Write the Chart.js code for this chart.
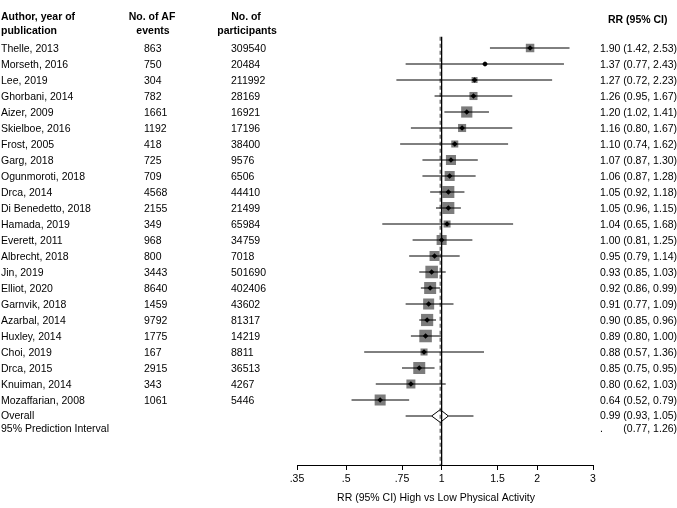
<!DOCTYPE html>
<html>
<head>
<meta charset="utf-8">
<script src="https://cdn.jsdelivr.net/npm/chart.js@4.4.1/dist/chart.umd.min.js"></script>
<style>
    html, body { margin: 0; padding: 0; background: #fff; }
</style>
</head>
<body>
<canvas id="forestChart" width="677" height="508"></canvas>
<script>
// Datos del forest plot
const studies = [
    "Thelle, 2013", "Morseth, 2016", "Lee, 2019", "Ghorbani, 2014", "Aizer, 2009",
    "Skielboe, 2016", "Frost, 2005", "Garg, 2018", "Ogunmoroti, 2018", "Drca, 2014",
    "Di Benedetto, 2018", "Hamada, 2019", "Everett, 2011", "Albrecht, 2018", "Jin, 2019",
    "Elliot, 2020", "Garnvik, 2018", "Azarbal, 2014", "Huxley, 2014", "Choi, 2019",
    "Drca, 2015", "Knuiman, 2014", "Mozaffarian, 2008"
];
const afEvents = [863, 750, 304, 782, 1661, 1192, 418, 725, 709, 4568, 2155, 349, 968, 800, 3443, 8640, 1459, 9792, 1775, 167, 2915, 343, 1061];
const participants = [309540, 20484, 211992, 28169, 16921, 17196, 38400, 9576, 6506, 44410, 21499, 65984, 34759, 7018, 501690, 402406, 43602, 81317, 14219, 8811, 36513, 4267, 5446];
const rr    = [1.90, 1.37, 1.27, 1.26, 1.20, 1.16, 1.10, 1.07, 1.06, 1.05, 1.05, 1.04, 1.00, 0.95, 0.93, 0.92, 0.91, 0.90, 0.89, 0.88, 0.85, 0.80, 0.64];
const lower = [1.42, 0.77, 0.72, 0.95, 1.02, 0.80, 0.74, 0.87, 0.87, 0.92, 0.96, 0.65, 0.81, 0.79, 0.85, 0.86, 0.77, 0.85, 0.80, 0.57, 0.75, 0.62, 0.52];
const upper = [2.53, 2.43, 2.23, 1.67, 1.41, 1.67, 1.62, 1.30, 1.28, 1.18, 1.15, 1.68, 1.25, 1.14, 1.03, 0.99, 1.09, 0.96, 1.00, 1.36, 0.95, 1.03, 0.79];
// Peso de cada estudio (%), estimado del tamaño de los cuadrados
const weights = [3.2, 0.7, 1.6, 2.9, 5.6, 2.9, 2.2, 4.5, 4.5, 6.4, 6.4, 2.2, 4.5, 4.5, 7.0, 6.4, 5.4, 6.6, 7.0, 2.2, 6.4, 3.6, 5.4];
const overall = [0.99, 0.93, 1.05];
const predInterval = [0.77, 1.26];
const tickValues = [0.35, 0.5, 0.75, 1, 1.5, 2, 3];
const tickLabels = [".35", ".5", ".75", "1", "1.5", "2", "3"];

const FONT = "'Liberation Sans', Arial, sans-serif";
const ROW_OVERALL = studies.length;
const Y_MAX = 26.0625;
const GREY = "#7c7c7c";

function fmt(v, lo, hi) {
    return `${v.toFixed(2)} (${lo.toFixed(2)}, ${hi.toFixed(2)})`;
}

// Lado del cuadrado proporcional a la raíz del peso
function squareRadius(w) {
    return Math.sqrt(w) * 4.74 / Math.SQRT2;
}

function lineSet(points, extra) {
    return Object.assign({
        data: points,
        showLine: true,
        borderColor: "#000",
        borderWidth: 1,
        pointRadius: 0,
        tension: 0
    }, extra || {});
}

// Textos de las columnas
const textPlugin = {
    id: "forestText",
    afterDraw(chart) {
        const ctx = chart.ctx;
        const yScale = chart.scales.y;
        ctx.save();
        ctx.fillStyle = "#000";
        ctx.textBaseline = "middle";

        ctx.font = `bold 10.5px ${FONT}`;
        ctx.textAlign = "left";
        ctx.fillText("Author, year of", 1, 17);
        ctx.fillText("publication", 1, 31);
        ctx.fillText("RR (95% CI)", 608, 20);
        ctx.textAlign = "center";
        ctx.fillText("No. of AF", 152, 17);
        ctx.fillText("events", 153, 31);
        ctx.fillText("No. of", 246, 17);
        ctx.fillText("participants", 247, 31);

        ctx.font = `10.5px ${FONT}`;
        ctx.textAlign = "left";
        studies.forEach((name, i) => {
            const py = yScale.getPixelForValue(i) + 1;
            ctx.fillText(name, 1, py);
            ctx.fillText(String(afEvents[i]), 144, py);
            ctx.fillText(String(participants[i]), 231, py);
            ctx.fillText(fmt(rr[i], lower[i], upper[i]), 600, py);
        });

        const yo = yScale.getPixelForValue(ROW_OVERALL);
        ctx.fillText("Overall", 1, yo);
        ctx.fillText(fmt(overall[0], overall[1], overall[2]), 600, yo);
        const yp = yo + 13;
        ctx.fillText("95% Prediction Interval", 1, yp);
        ctx.fillText(".", 600, yp);
        const offset = ctx.measureText(overall[0].toFixed(2) + " ").width;
        ctx.fillText(`(${predInterval[0].toFixed(2)}, ${predInterval[1].toFixed(2)})`, 600 + offset, yp);

        ctx.textAlign = "center";
        ctx.fillText("RR (95% CI) High vs Low Physical Activity", 436, 498);
        ctx.restore();
    }
};

function createForestChart() {
    const datasets = [];

    // Marcadores centrales (rombos negros)
    datasets.push({
        data: rr.map((v, i) => ({ x: v, y: i })),
        pointStyle: "rectRot",
        pointRadius: 2.8,
        backgroundColor: "#000",
        borderWidth: 0,
        order: 0
    });

    // Intervalos de confianza
    studies.forEach((s, i) => {
        datasets.push(lineSet([{ x: lower[i], y: i }, { x: upper[i], y: i }], { order: 1 }));
    });

    // Diamante del efecto global
    datasets.push(lineSet([
        { x: overall[1], y: ROW_OVERALL },
        { x: overall[0], y: ROW_OVERALL - 0.4 },
        { x: overall[2], y: ROW_OVERALL },
        { x: overall[0], y: ROW_OVERALL + 0.4 },
        { x: overall[1], y: ROW_OVERALL }
    ], { order: 1 }));

    // Intervalo de predicción
    datasets.push(lineSet([{ x: predInterval[0], y: ROW_OVERALL }, { x: overall[1], y: ROW_OVERALL }], { order: 1 }));
    datasets.push(lineSet([{ x: overall[2], y: ROW_OVERALL }, { x: predInterval[1], y: ROW_OVERALL }], { order: 1 }));

    // Línea de no efecto y línea del efecto global
    datasets.push(lineSet([{ x: 1, y: -0.7 }, { x: 1, y: Y_MAX }], { borderWidth: 1.3, order: 2 }));
    datasets.push(lineSet([{ x: overall[0], y: -0.7 }, { x: overall[0], y: Y_MAX }], {
        borderColor: GREY, borderWidth: 1.5, borderDash: [4, 3], order: 2
    }));

    // Cuadrados de peso
    datasets.push({
        data: rr.map((v, i) => ({ x: v, y: i })),
        pointStyle: "rect",
        pointRadius: weights.map(squareRadius),
        backgroundColor: GREY,
        borderWidth: 0,
        order: 3
    });

    const ctx = document.getElementById("forestChart").getContext("2d");
    return new Chart(ctx, {
        type: "scatter",
        data: { datasets: datasets },
        options: {
            responsive: false,
            animation: false,
            devicePixelRatio: 1,
            layout: { padding: { left: 297, right: 84, top: 32, bottom: 0 } },
            plugins: { legend: { display: false }, tooltip: { enabled: false } },
            scales: {
                x: {
                    type: "logarithmic",
                    min: 0.35,
                    max: 3,
                    afterBuildTicks: (scale) => { scale.ticks = tickValues.map(v => ({ value: v })); },
                    afterFit: (scale) => { scale.height = 43; },
                    ticks: {
                        callback: (value, index) => tickLabels[index],
                        font: { family: FONT, size: 10.5 },
                        color: "#000",
                        autoSkip: false,
                        maxRotation: 0,
                        padding: 3
                    },
                    grid: { drawOnChartArea: false, drawTicks: true, tickLength: 5, color: "#000", lineWidth: 1 },
                    border: { display: true, color: "#000", width: 1 }
                },
                y: { type: "linear", reverse: true, min: -1, max: Y_MAX, display: false }
            }
        },
        plugins: [textPlugin]
    });
}

createForestChart();
</script>
</body>
</html>
